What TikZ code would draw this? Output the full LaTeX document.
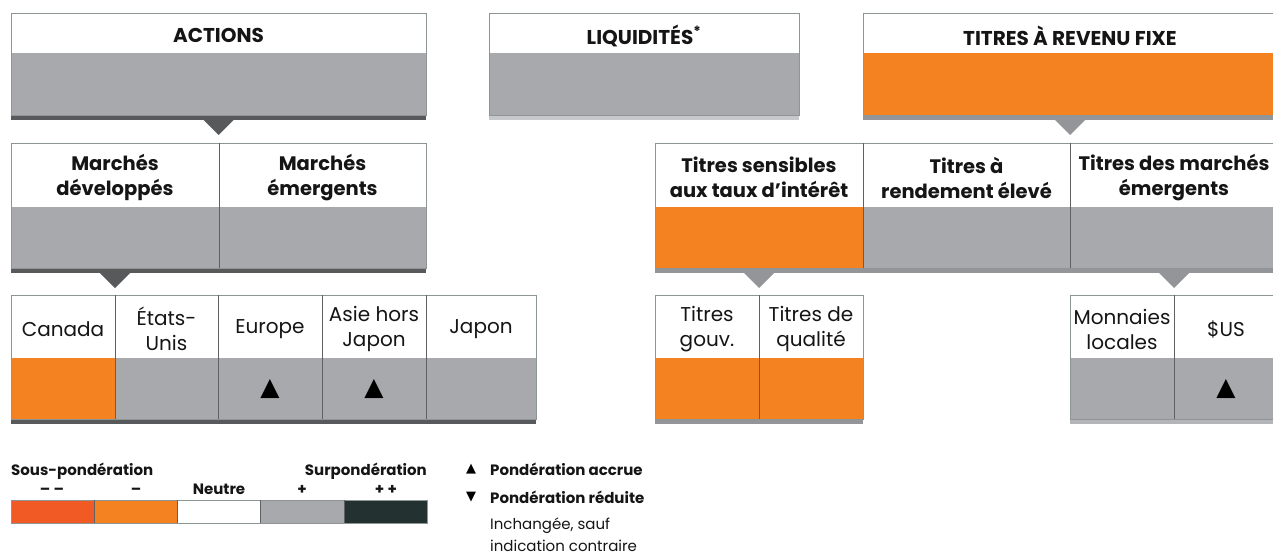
\documentclass[tikz,border=0pt]{standalone}
\usepackage{fontspec}
\setmainfont{Poppins}
\newfontfamily\dejavu{DejaVu Sans}
\definecolor{cOr}{HTML}{F58220}
\definecolor{cRed}{HTML}{F15A24}
\definecolor{cGr}{HTML}{A7A9AC}
\definecolor{cDk}{HTML}{58595B}
\definecolor{cMd}{HTML}{939598}
\definecolor{cLt}{HTML}{C7C8CA}
\definecolor{cLb}{HTML}{B3B5B8}
\definecolor{cDg}{HTML}{233231}
\definecolor{cLine}{HTML}{8E9595}
\definecolor{cDiv}{HTML}{5E6062}
\definecolor{cTxt}{HTML}{151515}
\newcommand\myfH{\fontsize{20}{22}\selectfont\bfseries}
\newcommand\myfS{\fontsize{19.5}{25}\selectfont\bfseries}
\newcommand\myfT{\fontsize{20}{25}\selectfont}
\newcommand\myfL{\fontsize{15}{18}\selectfont\bfseries}
\newcommand\myfLr{\fontsize{15}{18}\selectfont}
\newcommand\cellpair[9]{%
  \node[cellh, minimum width={(#3-#2)*1pt}, minimum height={(#5-#4)*1pt}] (#1h) at (#2,#4) {};
  \node[celltxt, font=#8] (#1t) at ([yshift=-2.5pt]#1h.center) {#9};
  \node[cellb, fill=#7, minimum width={(#3-#2)*1pt}, minimum height={(#6-#5)*1pt}] (#1b) at (#2,#5) {};
}
\newcommand\grpbar[5]{%
  \node[cellb, fill=#5, minimum width={(#3-#2)*1pt}, minimum height=5pt] (#1) at (#2,#4) {};
}
\tikzset{
  cellh/.style={inner sep=0pt, outer sep=0pt, fill=white, anchor=north west},
  celltxt/.style={inner sep=0pt, align=center, text=cTxt},
  cellb/.style={inner sep=0pt, outer sep=0pt, anchor=north west},
  outl/.style={draw=cLine, line width=1pt},
  divl/.style={draw=cDiv, line width=0.8pt},
  uptri/.style={inner sep=0pt, font=\dejavu\fontsize{25}{25}\selectfont},
  lgtxt/.style={inner sep=0pt, anchor=base west, font=\myfL, text=cTxt},
}
\begin{document}
\begin{tikzpicture}[x=1pt,y=-1pt]
\useasboundingbox (0,0) rectangle (1273,554);
\clip (0,0) rectangle (1273,554);
% ---------- row 1
\cellpair{act}{11}{426}{13}{53}{115}{cGr}{\myfH}{ACTIONS}
\grpbar{actbar}{11}{426}{115}{cDk}
\cellpair{liq}{489}{799}{13}{53}{115}{cGr}{\myfH}{LIQUIDITÉS\textsuperscript{*}}
\grpbar{liqbar}{489}{799}{115}{cLt}
\cellpair{fix}{863}{1277}{13}{53}{115}{cOr}{\myfH}{TITRES À REVENU FIXE}
\grpbar{fixbar}{863}{1277}{115}{cMd}
\draw[outl] (acth.north west) rectangle (actb.south east);
\draw[outl] (liqh.north west) rectangle (liqb.south east);
\draw[outl] (fixh.north west) rectangle (fixb.south east);
% ---------- row 2 left
\cellpair{dm}{11}{219}{143}{207}{268}{cGr}{\myfS}{Marchés\\développés}
\cellpair{em}{219}{426}{143}{207}{268}{cGr}{\myfS}{Marchés\\émergents}
\grpbar{lbartwo}{11}{426}{268}{cDk}
\draw[outl] (dmh.north west) rectangle (emb.south east);
\draw[divl] (dmh.north east) -- (dmb.south east);
% ---------- row 2 right
\cellpair{rs}{655}{863}{143}{207}{268}{cOr}{\myfS}{Titres sensibles\\aux taux d’intérêt}
\cellpair{hy}{863}{1070}{143}{207}{268}{cGr}{\myfS}{Titres à\\rendement élevé}
\cellpair{emd}{1070}{1278}{143}{207}{268}{cGr}{\myfS}{Titres des marchés\\émergents}
\grpbar{rbartwo}{655}{1278}{268}{cMd}
\draw[outl] (rsh.north west) rectangle (emdb.south east);
\draw[divl] (rsh.north east) -- (rsb.south east);
\draw[divl] (hyh.north east) -- (hyb.south east);
% ---------- row 3 left
\cellpair{ca}{11}{115}{295}{358}{419}{cOr}{\myfT}{Canada}
\cellpair{us}{115}{218}{295}{358}{419}{cGr}{\myfT}{États-\\Unis}
\cellpair{eu}{218}{322}{295}{358}{419}{cGr}{\myfT}{Europe}
\cellpair{as}{322}{426}{295}{358}{419}{cGr}{\myfT}{Asie hors\\Japon}
\cellpair{jp}{426}{536}{295}{358}{419}{cGr}{\myfT}{Japon}
\grpbar{lbarthree}{11}{536}{419}{cDk}
\draw[outl] (cah.north west) rectangle (jpb.south east);
\draw[divl] (cah.north east) -- (cab.south east);
\draw[divl] (ush.north east) -- (usb.south east);
\draw[divl] (euh.north east) -- (eub.south east);
\draw[divl] (ash.north east) -- (asb.south east);
\node[uptri] (eutri) at (eub.center) {▲};
\node[uptri] (astri) at (asb.center) {▲};
% ---------- row 3 middle
\cellpair{tg}{655}{759}{295}{358}{419}{cOr}{\myfT}{Titres\\gouv.}
\cellpair{tq}{759}{863}{295}{358}{419}{cOr}{\myfT}{Titres de\\qualité}
\grpbar{mbarthree}{655}{863}{419}{cMd}
\draw[outl] (tgh.north west) rectangle (tqb.south east);
\draw[divl] (tgh.north east) -- (tgb.south east);
% ---------- row 3 right
\cellpair{ml}{1070}{1174}{295}{358}{419}{cGr}{\myfT}{Monnaies\\locales}
\cellpair{usd}{1174}{1278}{295}{358}{419}{cGr}{\myfT}{\$US}
\grpbar{rbarthree}{1070}{1278}{419}{cLb}
\draw[outl] (mlh.north west) rectangle (usdb.south east);
\draw[divl] (mlh.north east) -- (mlb.south east);
\node[uptri] (usdtri) at (usdb.center) {▲};
% ---------- pointers
\coordinate (pA) at (actbar.south);
\coordinate (pD) at (dmh.south |- lbartwo.south);
\coordinate (pF) at (hyh.north east |- fixbar.south);
\coordinate (pR) at (rsh.south |- rbartwo.south);
\coordinate (pE) at (emdh.south |- rbartwo.south);
\fill[cDk] ([xshift=-15pt]pA) -- ([xshift=15pt]pA) -- ([yshift=-15pt]pA) -- cycle;
\fill[cDk] ([xshift=-15pt]pD) -- ([xshift=15pt]pD) -- ([yshift=-15pt]pD) -- cycle;
\fill[cMd] ([xshift=-15pt]pF) -- ([xshift=15pt]pF) -- ([yshift=-15pt]pF) -- cycle;
\fill[cMd] ([xshift=-15pt]pR) -- ([xshift=15pt]pR) -- ([yshift=-15pt]pR) -- cycle;
\fill[cMd] ([xshift=-15pt]pE) -- ([xshift=15pt]pE) -- ([yshift=-15pt]pE) -- cycle;
% ---------- legend scale
\foreach \i/\c in {0/cRed,1/cOr,2/white,3/cGr,4/cDg}{
  \node[cellb, fill=\c, minimum width=83.2pt, minimum height=23pt] (lg\i) at ({11+83.2*\i},500) {};
}
\draw[draw=cLine, line width=0.8pt] (lg0.north west) rectangle (lg4.south east);
\foreach \i in {0,1,2,3}{ \draw[draw=cDiv, line width=0.6pt] (lg\i.north east) -- (lg\i.south east); }
\node[lgtxt] (sous) at (11,475) {Sous-pondération};
\node[lgtxt, anchor=base east] (surp) at (427,475) {Surpondération};
\node[lgtxt, anchor=base] (mm) at (52,494) {– –};
\node[lgtxt, anchor=base] (m) at (136,494) {–};
\node[lgtxt, anchor=base] (neu) at (219,494) {Neutre};
\node[lgtxt, anchor=base] (p) at (302,494) {+};
\node[lgtxt, anchor=base] (pp) at (386,494) {+ +};
% ---------- legend symbols
\node[inner sep=0pt, font=\dejavu\fontsize{13}{13}\selectfont] (sup) at (471,469) {▲};
\node[inner sep=0pt, font=\dejavu\fontsize{13}{13}\selectfont] (sdn) at (471,497) {▼};
\node[lgtxt] (acc) at (490,475) {Pondération accrue};
\node[lgtxt] (red) at (490,503) {Pondération réduite};
\node[lgtxt, font=\myfLr] (inc) at (490,529) {Inchangée, sauf};
\node[lgtxt, font=\myfLr] (ind) at (490,551) {indication contraire};
\end{tikzpicture}
\end{document}
